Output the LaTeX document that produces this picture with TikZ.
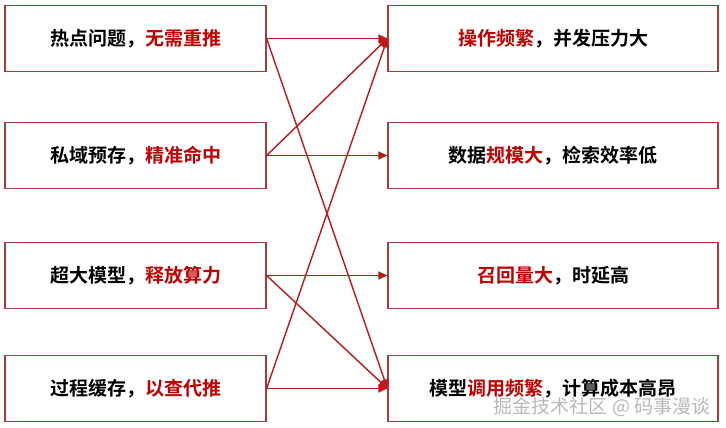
\documentclass[tikz,border=0pt]{standalone}
\usepackage{fontspec}
\newfontfamily\cjk{Noto Sans CJK SC}[BoldFont={Noto Sans CJK SC Bold}]
\usetikzlibrary{arrows.meta}
\definecolor{bd}{HTML}{A83A3A}
\definecolor{hl}{HTML}{C00000}
\definecolor{ar}{HTML}{C01818}
\begin{document}
\begin{tikzpicture}[x=1pt,y=-1pt,
  box/.style={draw=bd,line width=1.2pt,minimum height=66pt,inner sep=0pt,font=\cjk\bfseries\fontsize{19}{22}\selectfont},
  lb/.style={box,minimum width=261pt},
  rb/.style={box,minimum width=330pt},
  con/.style={draw=ar,line width=1.4pt,-{Triangle[length=9pt,width=8pt]}}]
\useasboundingbox (0,0) rectangle (726,428);
\newcommand\hh[1]{\textcolor{hl}{#1}}
\node[lb] (l1) at (135.5,38.5) {热点问题，\hh{无需重推}};
\node[lb] (l2) at (135.5,155.5) {私域预存，\hh{精准命中}};
\node[lb] (l3) at (135.5,275.5) {超大模型，\hh{释放算力}};
\node[lb] (l4) at (135.5,388.5) {过程缓存，\hh{以查代推}};
\node[rb] (r1) at (553,38.5) {\hh{操作频繁}，并发压力大};
\node[rb] (r2) at (553,155.5) {数据\hh{规模大}，检索效率低};
\node[rb] (r3) at (553,275.5) {\hh{召回量大}，时延高};
\node[rb] (r4) at (553,388.5) {模型\hh{调用频繁}，计算成本高昂};
\foreach \a/\b in {1/1,1/4,2/1,2/2,3/3,3/4,4/1,4/4}
  \draw[con] (l\a.east) -- (r\b.west);
\node[anchor=south east,text=gray!55,font=\cjk\fontsize{19}{22}\selectfont] (wm) at (714,420) {掘金技术社区 @ 码事漫谈};
\end{tikzpicture}
\end{document}
